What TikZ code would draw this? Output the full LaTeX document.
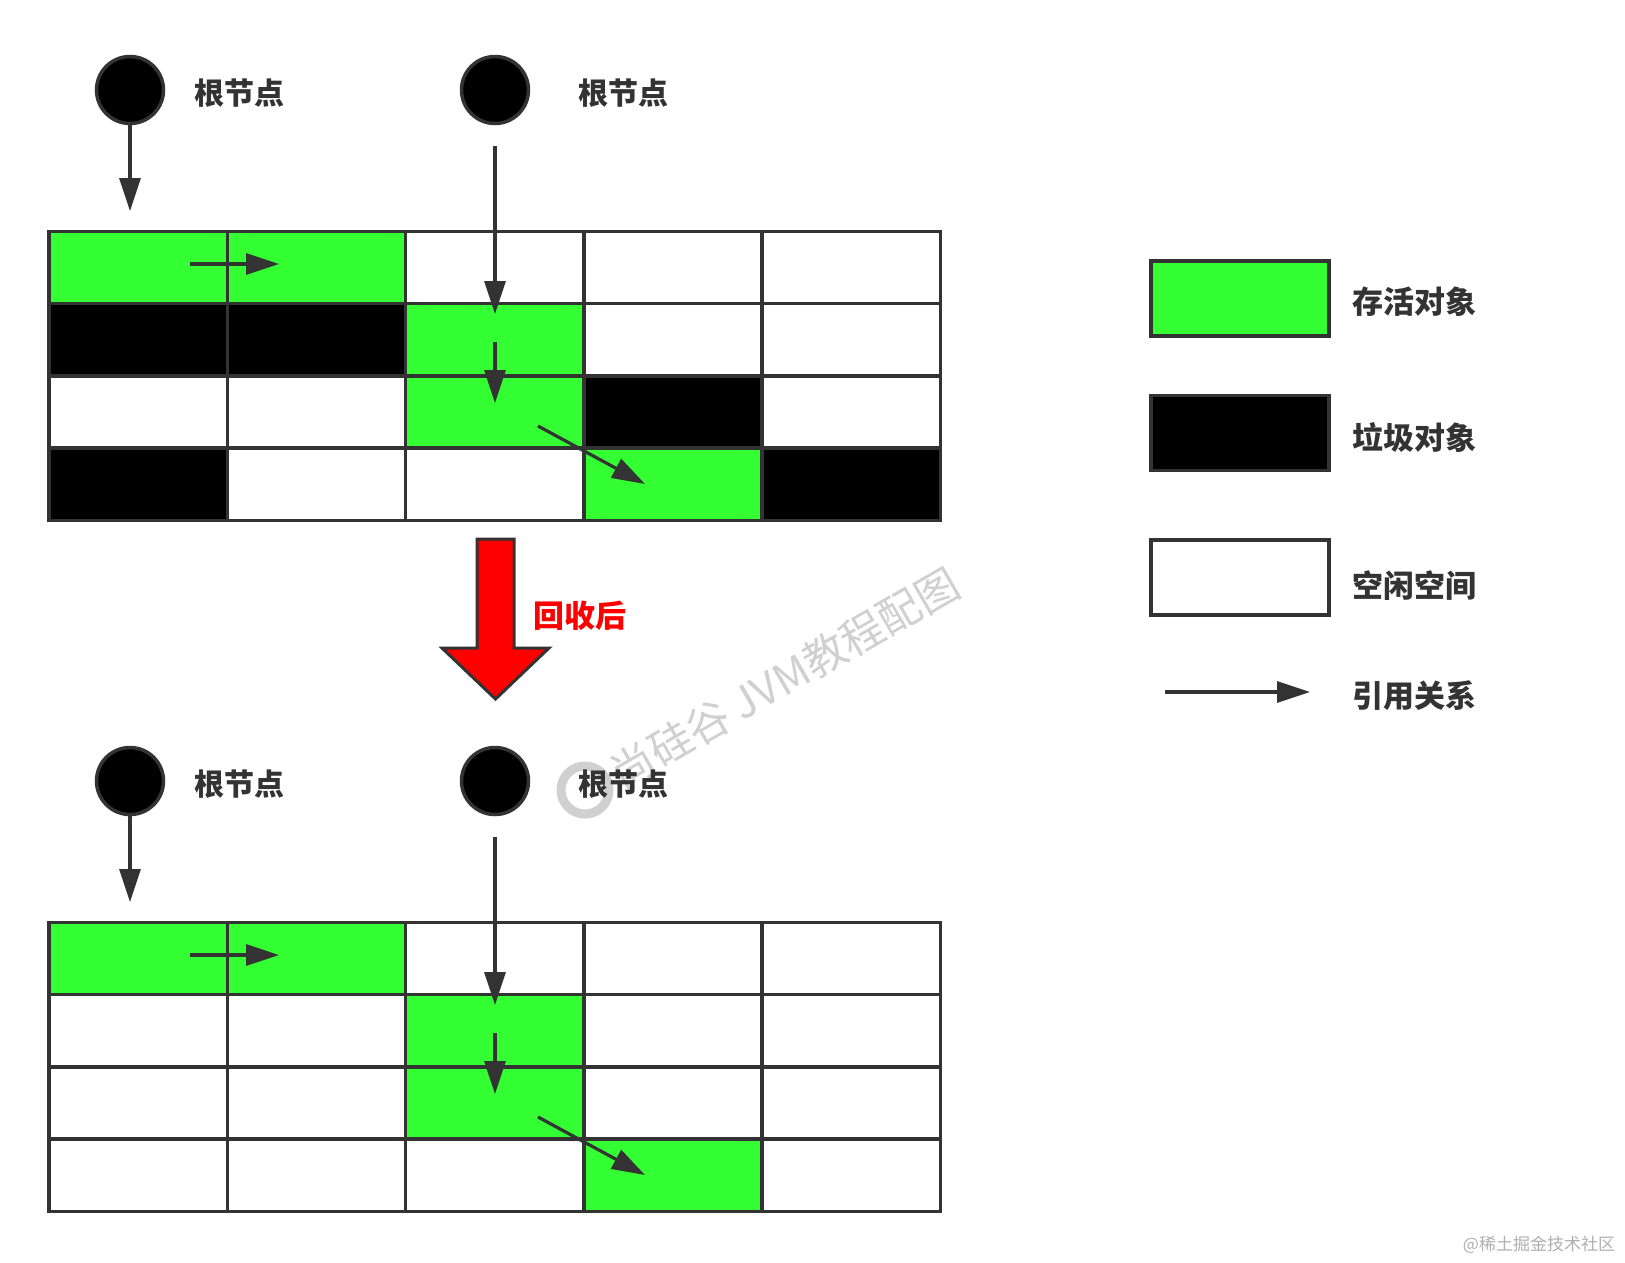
\documentclass[tikz,border=0pt]{standalone}
\usepackage{fontspec}
\newfontfamily\cjk{Noto Sans CJK SC}
\usetikzlibrary{arrows.meta}
\definecolor{live}{RGB}{51,255,51}
\definecolor{ln}{RGB}{51,51,51}
\definecolor{wm}{RGB}{208,208,208}
\definecolor{wm2}{RGB}{175,175,175}
\begin{document}
\begin{tikzpicture}[x=1pt,y=-1pt,
  cell/.style={draw=ln, line width=3.5pt, minimum width=178.3pt, minimum height=72.2pt, inner sep=0pt, outer sep=0pt},
  root/.style={circle, draw=ln, fill=black, line width=3.5pt, minimum size=67pt, inner sep=0pt},
  lbl/.style={font=\cjk\bfseries\fontsize{30}{36}\selectfont, text=ln, inner sep=0pt},
  leg/.style={font=\cjk\bfseries\fontsize{31}{37}\selectfont, text=ln, inner sep=0pt, anchor=west},
  legbox/.style={draw=ln, line width=3.5pt, minimum width=178pt, minimum height=75pt, inner sep=0pt},
  ref/.style={draw=ln, line width=3.2pt, -{Triangle[length=33pt,width=21pt]}},
]
\useasboundingbox (0,0) rectangle (1625,1262);
\fill[white] (0,0) rectangle (1625,1262);

% watermark
\draw[wm, line width=9pt] (585,790) circle (24);
\node[wm, font=\cjk\fontsize{43}{50}\selectfont, rotate=30, inner sep=0pt] (wmtext) at (785,678) {尚硅谷 JVM教程配图};
\node[wm2, font=\cjk\fontsize{17}{20}\selectfont, inner sep=0pt] (jj) at (1539,1245) {@稀土掘金技术社区};

% top grid
\foreach \row [count=\r] in {{live,live,white,white,white},{black,black,live,white,white},{white,white,live,black,white},{black,white,white,live,black}}{
  \foreach \f [count=\c] in \row {
    \node[cell, fill=\f] (t-\r-\c) at ({49+178.3*(\c-0.5)}, {231.5+72.2*(\r-0.5)}) {};
  }
}
% bottom grid
\foreach \row [count=\r] in {{live,live,white,white,white},{white,white,live,white,white},{white,white,live,white,white},{white,white,white,live,white}}{
  \foreach \f [count=\c] in \row {
    \node[cell, fill=\f] (b-\r-\c) at ({49+178.3*(\c-0.5)}, {922.5+72.2*(\r-0.5)}) {};
  }
}

% roots top
\node[root] (tr1) at (130,90) {};
\node[root] (tr2) at (495,90) {};
\node[lbl] (tl1) at (239.5,93) {根节点};
\node[lbl] (tl2) at (623,93) {根节点};
% roots bottom
\node[root] (br1) at (130,781) {};
\node[root] (br2) at (495,781) {};
\node[lbl] (bl1) at (239.5,784) {根节点};
\node[lbl] (bl2) at (623,784) {根节点};

% top arrows
\coordinate (ta1e) at (130,211);
\coordinate (ta2s) at (495,146);
\coordinate (ta2e) at (495,314);
\coordinate (ta3s) at (495,342);
\coordinate (ta3e) at (495,403);
\coordinate (ta4s) at (538,426);
\coordinate (ta4e) at (645,484);
\coordinate (ta5s) at (190,264);
\coordinate (ta5e) at (279,264);
\draw[ref] (tr1.south) -- (ta1e);
\draw[ref] (ta2s) -- (ta2e);
\draw[ref] (ta3s) -- (ta3e);
\draw[ref] (ta4s) -- (ta4e);
\draw[ref] (ta5s) -- (ta5e);
% bottom arrows
\coordinate (ba1e) at (130,902);
\coordinate (ba2s) at (495,837);
\coordinate (ba2e) at (495,1005);
\coordinate (ba3s) at (495,1033);
\coordinate (ba3e) at (495,1094);
\coordinate (ba4s) at (538,1117);
\coordinate (ba4e) at (645,1175);
\coordinate (ba5s) at (190,955);
\coordinate (ba5e) at (279,955);
\draw[ref] (br1.south) -- (ba1e);
\draw[ref] (ba2s) -- (ba2e);
\draw[ref] (ba3s) -- (ba3e);
\draw[ref] (ba4s) -- (ba4e);
\draw[ref] (ba5s) -- (ba5e);

% big red arrow
\draw[ln, fill=red, line width=3pt] (477,539) -- (514,539) -- (514,648) -- (549,648) -- (495.5,699) -- (442,648) -- (477,648) -- cycle;
\node[font=\cjk\bfseries\fontsize{31}{37}\selectfont, text=red, inner sep=0pt] (after) at (580,616) {回收后};

% legend
\node[legbox, fill=live] (lg1) at (1240,298.5) {};
\node[legbox, fill=black] (lg2) at (1240,433) {};
\node[legbox, fill=white] (lg3) at (1240,577.5) {};
\node[leg] (lt1) at (1352,302) {存活对象};
\node[leg] (lt2) at (1352,437) {垃圾对象};
\node[leg] (lt3) at (1352,586) {空闲空间};
\node[leg] (lt4) at (1352,696) {引用关系};
\coordinate (la1) at (1165,692);
\coordinate (la2) at (1310,692);
\draw[ref] (la1) -- (la2);
\end{tikzpicture}
\end{document}
